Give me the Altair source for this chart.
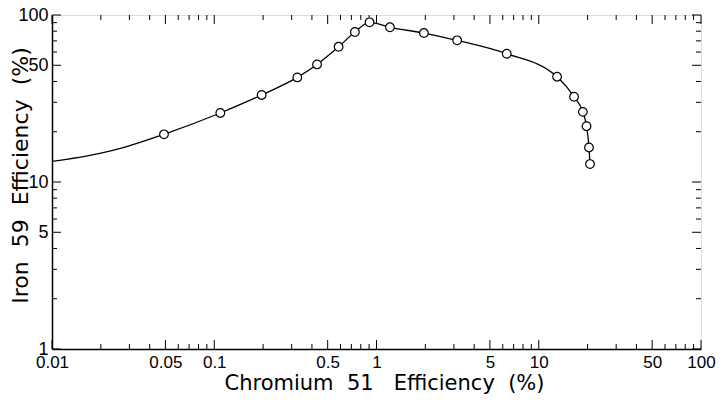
import altair as alt
import pandas as pd

# Marker points (Chromium 51 efficiency %, Iron 59 efficiency %)
cr_eff = [0.049, 0.109, 0.196, 0.325, 0.43, 0.584, 0.736, 0.906, 1.21, 1.96,
          3.14, 6.35, 12.97, 16.5, 18.7, 19.7, 20.4, 20.7]
fe_eff = [19.3, 25.9, 33.2, 42.3, 50.6, 64.5, 79.1, 90.4, 84.4, 78.0,
          70.5, 58.6, 42.7, 32.4, 26.3, 21.6, 16.1, 12.8]

# Extra curve points (no markers) at the low end of the curve
curve_start_x = [0.01, 0.0194, 0.0282]
curve_start_y = [13.3, 14.8, 16.2]

x_labels = [0.01, 0.05, 0.1, 0.5, 1, 5, 10, 50, 100]
y_labels = [1, 5, 10, 50, 100]
x_minor = [m * d for d in [0.01, 0.1, 1, 10] for m in [2, 3, 4, 6, 7, 8, 9]]
y_minor = [m * d for d in [1, 10] for m in [2, 3, 4, 6, 7, 8, 9]]

NB = "\u00a0"
x_title = "Chromium" + NB * 2 + "51" + NB * 3 + "Efficiency" + NB * 2 + "(%)"
y_title = "Iron" + NB * 2 + "59" + NB * 2 + "Efficiency" + NB * 2 + "(%)"

W, H = 649, 334

pts = pd.DataFrame({"x": cr_eff, "y": fe_eff})
curve = pd.DataFrame({"x": curve_start_x + cr_eff, "y": curve_start_y + fe_eff})
curve["order"] = range(len(curve))

xscale = alt.Scale(type="log", domain=[0.01, 100], nice=False)
yscale = alt.Scale(type="log", domain=[1, 100], nice=False)

label_font = "Liberation Sans"
title_font = "DejaVu Sans"

xaxis = alt.Axis(values=x_labels, format="~g", ticks=False, grid=False,
                 labelFontSize=17, labelFont=label_font, labelColor="black",
                 labelPadding=5, domainColor="black", domainWidth=1.5,
                 title=x_title, titleFont=title_font,
                 titleFontSize=21, titleFontWeight="normal", titleColor="black",
                 titleX=332, titleY=40, titleBaseline="alphabetic",
                 labelFlush=False)
yaxis = alt.Axis(values=y_labels, format="~g", ticks=False, grid=False,
                 labelFontSize=18, labelFont=label_font, labelColor="black",
                 labelPadding=4, domainColor="black", domainWidth=1.5,
                 title=y_title, titleFont=title_font,
                 titleFontSize=22, titleFontWeight="normal", titleColor="black",
                 titleX=-32, titleY=160, titleBaseline="middle",
                 titleAngle=270, labelFlush=False)

line = alt.Chart(curve).mark_line(color="black", strokeWidth=1.3,
                                  interpolate="monotone").encode(
    x=alt.X("x:Q", scale=xscale, axis=xaxis),
    y=alt.Y("y:Q", scale=yscale, axis=yaxis),
    order="order:Q",
)

points = alt.Chart(pts).mark_point(shape="circle", size=75, filled=True,
                                   fill="white", stroke="black",
                                   strokeWidth=1.2, opacity=1).encode(
    x=alt.X("x:Q", scale=xscale),
    y=alt.Y("y:Q", scale=yscale),
)

def xticks(vals, length):
    df = pd.DataFrame({"x": vals})
    bottom = alt.Chart(df).mark_rule(color="black", strokeWidth=1).encode(
        x=alt.X("x:Q", scale=xscale), y=alt.value(H), y2=alt.value(H - length))
    top = alt.Chart(df).mark_rule(color="black", strokeWidth=1).encode(
        x=alt.X("x:Q", scale=xscale), y=alt.value(0), y2=alt.value(length))
    return bottom + top

def yticks(vals, length):
    df = pd.DataFrame({"y": vals})
    left = alt.Chart(df).mark_rule(color="black", strokeWidth=1).encode(
        y=alt.Y("y:Q", scale=yscale), x=alt.value(0), x2=alt.value(length))
    right = alt.Chart(df).mark_rule(color="black", strokeWidth=1).encode(
        y=alt.Y("y:Q", scale=yscale), x=alt.value(W), x2=alt.value(W - length))
    return left + right

chart = alt.layer(
    line,
    xticks(x_labels, 9), xticks(x_minor, 5),
    yticks(y_labels, 9), yticks(y_minor, 5),
    points,
).properties(
    width=W, height=H,
    autosize=alt.AutoSizeParams(type="none"),
    padding={"left": 44, "top": 7, "right": 15, "bottom": 45},
).configure_view(stroke="black", strokeWidth=1.2).configure(background="white")

chart.save("out.html", embed_options={"renderer": "svg", "actions": False})
